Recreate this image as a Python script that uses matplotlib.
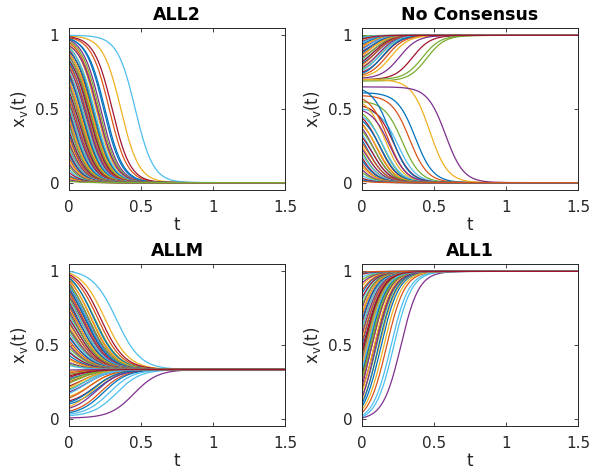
import numpy as np
import matplotlib
matplotlib.use("Agg")
import matplotlib.pyplot as plt

# MATLAB default line colour order
colors = ["#0072BD", "#D95319", "#EDB120", "#7E2F8E", "#77AC30", "#4DBEEE", "#A2142F"]

titles = ["ALL2", "No Consensus", "ALLM", "ALL1"]

# each trajectory: start value x0 and the time tm at which it switches
all2_x0 = [0.98, 0.985, 0.995, 0.97, 0.96, 1.00, 0.99,
           0.975, 0.95, 0.94, 0.93, 0.92, 0.91, 0.90,
           0.89, 0.88, 0.87, 0.86, 0.85, 0.84, 0.83,
           0.82, 0.80, 0.79, 0.78, 0.76, 0.75, 0.74,
           0.72, 0.70, 0.69, 0.67, 0.65, 0.63, 0.62,
           0.60, 0.58, 0.56, 0.55, 0.53, 0.51, 0.49,
           0.47, 0.45, 0.43, 0.41, 0.39, 0.37, 0.35,
           0.33, 0.31, 0.29, 0.27, 0.25, 0.23, 0.21,
           0.19, 0.17, 0.15, 0.13, 0.11, 0.09, 0.07,
           0.05, 0.04, 0.03, 0.02, 0.01]
all2_tm = [0.24, 0.28, 0.36, 0.22, 0.21, 0.46, 0.30,
           0.25, 0.20, 0.19, 0.20, 0.17, 0.18, 0.16,
           0.17, 0.15, 0.16, 0.14, 0.15, 0.13, 0.14,
           0.12, 0.13, 0.11, 0.12, 0.10, 0.11, 0.09,
           0.10, 0.08, 0.09, 0.07, 0.08, 0.06, 0.07,
           0.05, 0.06, 0.04, 0.05, 0.03, 0.04, 0.02,
           0.03, 0.01, 0.02, 0.00, 0.01, -0.01, 0.00,
           -0.02, -0.01, -0.03, -0.02, -0.04, -0.03, -0.05,
           -0.04, -0.06, -0.05, -0.07, -0.06, -0.08, -0.07,
           -0.09, -0.08, -0.10, -0.09, -0.10]

nc_hi_x0 = [0.99, 0.98, 0.97, 0.96, 0.69, 0.95, 0.70,
            0.94, 0.93, 0.92, 0.91, 0.70, 0.90, 0.89,
            0.88, 0.87, 0.86, 0.85, 0.84, 0.83, 0.82,
            0.81, 0.80, 0.79, 0.78, 0.77, 0.76, 0.75,
            0.74, 0.73, 0.72, 0.71, 0.995, 0.985, 0.975]
nc_hi_tm = [-0.10, -0.06, -0.04, 0.00, 0.45, -0.02, 0.35,
            0.00, 0.02, 0.00, 0.03, 0.42, 0.02, 0.05,
            0.04, 0.06, 0.05, 0.08, 0.07, 0.09, 0.08,
            0.10, 0.09, 0.12, 0.11, 0.13, 0.12, 0.15,
            0.14, 0.17, 0.20, 0.26, -0.10, -0.08, -0.05]
nc_lo_x0 = [0.61, 0.59, 0.70, 0.65, 0.55, 0.50, 0.52,
            0.63, 0.57, 0.54, 0.49, 0.47, 0.45, 0.44,
            0.42, 0.40, 0.39, 0.37, 0.35, 0.33, 0.31,
            0.29, 0.27, 0.25, 0.23, 0.21, 0.19, 0.17,
            0.15, 0.13, 0.11, 0.09, 0.07, 0.05, 0.03,
            0.02, 0.01]
nc_lo_tm = [0.37, 0.33, 0.47, 0.58, 0.28, 0.25, 0.22,
            0.20, 0.18, 0.16, 0.19, 0.14, 0.15, 0.12,
            0.13, 0.10, 0.11, 0.08, 0.09, 0.06, 0.07,
            0.04, 0.05, 0.02, 0.03, 0.00, 0.01, -0.02,
            -0.01, -0.04, -0.03, -0.06, -0.05, -0.08, -0.07,
            -0.10, -0.10]

allm_final = 1 / 3
allm_hi_x0 = [0.90, 0.97, 0.99, 0.85, 0.95, 1.00, 0.98,
              0.96, 0.94, 0.93, 0.92, 0.91, 0.89, 0.88,
              0.87, 0.86, 0.84, 0.83, 0.82, 0.80, 0.79,
              0.77, 0.76, 0.74, 0.73, 0.71, 0.70, 0.68,
              0.66, 0.65, 0.63, 0.61, 0.60, 0.58, 0.56,
              0.55, 0.53, 0.51, 0.50, 0.48, 0.46, 0.45,
              0.43, 0.41, 0.40, 0.38, 0.37, 0.36]
allm_hi_tm = [0.12, 0.20, 0.25, 0.10, 0.18, 0.33, 0.22,
              0.17, 0.15, 0.16, 0.13, 0.14, 0.12, 0.11,
              0.12, 0.10, 0.09, 0.10, 0.08, 0.09, 0.07,
              0.08, 0.06, 0.07, 0.05, 0.06, 0.04, 0.05,
              0.03, 0.04, 0.02, 0.03, 0.01, 0.02, 0.00,
              0.01, -0.01, 0.00, -0.02, -0.01, -0.03, -0.02,
              -0.04, -0.03, -0.05, -0.04, -0.06, -0.05]
allm_lo_x0 = [0.10, 0.05, 0.15, 0.005, 0.20, 0.02, 0.12,
              0.04, 0.25, 0.08, 0.18, 0.30, 0.03, 0.22,
              0.27, 0.14, 0.32, 0.07, 0.24, 0.17, 0.29,
              0.11, 0.31, 0.21, 0.33, 0.26, 0.19, 0.28]
allm_lo_tm = [0.20, 0.22, 0.15, 0.45, 0.10, 0.33, 0.18,
              0.24, 0.06, 0.16, 0.12, 0.02, 0.28, 0.08,
              0.04, 0.14, 0.00, 0.19, 0.05, 0.11, 0.01,
              0.17, -0.02, 0.07, -0.03, 0.03, 0.09, 0.00]

all1_x0 = [0.08, 0.04, 0.12, 0.005, 0.15, 0.01, 0.20,
           0.10, 0.25, 0.18, 0.22, 0.28, 0.02, 0.30,
           0.32, 0.35, 0.37, 0.40, 0.42, 0.45, 0.47,
           0.50, 0.52, 0.55, 0.57, 0.60, 0.62, 0.65,
           0.67, 0.70, 0.72, 0.75, 0.77, 0.80, 0.82,
           0.85, 0.87, 0.90, 0.92, 0.94, 0.96, 0.98,
           0.99, 0.995, 0.06, 0.14, 0.27, 0.33, 0.44]
all1_tm = [0.13, 0.17, 0.12, 0.27, 0.10, 0.22, 0.09,
           0.11, 0.07, 0.08, 0.06, 0.05, 0.20, 0.04,
           0.05, 0.03, 0.04, 0.02, 0.03, 0.01, 0.02,
           0.00, 0.01, -0.01, 0.00, -0.02, -0.01, -0.03,
           -0.02, -0.04, -0.03, -0.05, -0.04, -0.06, -0.05,
           -0.07, -0.06, -0.08, -0.07, -0.09, -0.08, -0.10,
           -0.10, -0.10, 0.15, 0.09, 0.06, 0.04, 0.02]


def trajectory(t, x0, xf, tm, k):
    # smooth switch from x0 to xf, centred at tm
    g = (1 + np.exp(-k * tm)) / (1 + np.exp(k * (t - tm)))
    return xf + (x0 - xf) * g


def draw(ax, x0s, tms, xf, k):
    t = np.linspace(0, 1.5, 400)
    for i, (x0, tm) in enumerate(zip(x0s, tms)):
        ax.plot(t, trajectory(t, x0, xf, tm, k), color=colors[i % 7], lw=0.9)


def style(ax, title):
    ax.set_xlim(0, 1.5)
    ax.set_ylim(-0.05, 1.05)
    ax.set_xticks([0, 0.5, 1, 1.5])
    ax.set_xticklabels(["0", "0.5", "1", "1.5"])
    ax.set_yticks([0, 0.5, 1])
    ax.set_yticklabels(["0", "0.5", "1"])
    ax.tick_params(direction="in", length=3, width=0.6, top=True, right=True,
                   labelsize=11, colors="#262626", pad=7)
    for s in ax.spines.values():
        s.set_color("#262626")
        s.set_linewidth(0.7)
    ax.set_title(title, fontsize=12.5, fontweight="bold", pad=6)
    ax.set_xlabel("t", fontsize=12, color="#262626", labelpad=1)
    ax.set_ylabel(r"x$_\mathregular{v}$(t)", fontsize=12, color="#262626", labelpad=4)


fig = plt.figure(figsize=(5.92, 4.76), dpi=100)
W, H = 592, 476
boxes = [(69, 28), (362, 28), (69, 264), (362, 264)]
axes = [fig.add_axes([x / W, 1 - (y + 162) / H, 216 / W, 162 / H]) for x, y in boxes]

draw(axes[0], all2_x0, all2_tm, 0.0, 16)
draw(axes[1], nc_hi_x0, nc_hi_tm, 1.0, 16)
draw(axes[1], nc_lo_x0, nc_lo_tm, 0.0, 16)
draw(axes[2], allm_hi_x0, allm_hi_tm, allm_final, 12)
draw(axes[2], allm_lo_x0, allm_lo_tm, allm_final, 12)
draw(axes[3], all1_x0, all1_tm, 1.0, 16)

for ax, title in zip(axes, titles):
    style(ax, title)

fig.savefig("out.png", dpi=100)
